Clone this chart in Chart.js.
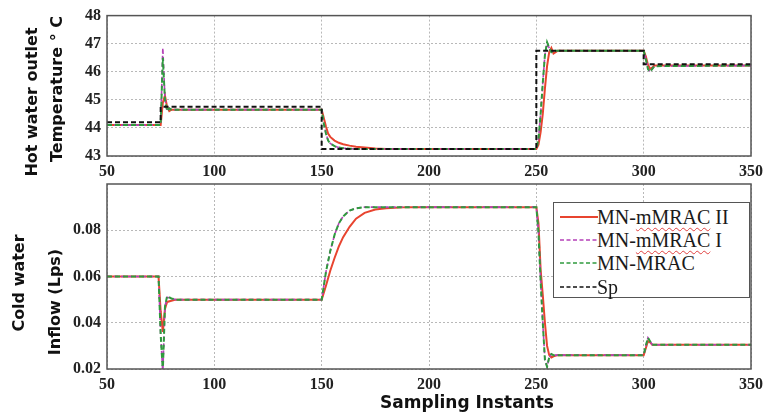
<!DOCTYPE html>
<html><head><meta charset="utf-8">
<script src="https://cdn.jsdelivr.net/npm/chart.js@4"></script>
<style>
html,body{margin:0;padding:0;background:#fff;}
#wrap{position:relative;width:771px;height:418px;overflow:hidden;background:#fff;}
canvas{position:absolute;left:0;}
#c1{top:0;}
#c2{top:160px;}
.yl{position:absolute;font-family:"DejaVu Sans",sans-serif;font-weight:bold;font-size:16px;color:#111;white-space:nowrap;transform:translate(-50%,-50%) rotate(-90deg);line-height:18px;}
#xt{position:absolute;font-family:"DejaVu Sans",sans-serif;font-weight:bold;font-size:17px;color:#111;white-space:nowrap;transform:translate(-50%,-50%);line-height:20px;}
#legend{position:absolute;left:553px;top:202px;width:197px;height:96px;box-sizing:border-box;border:1.5px solid #555;background:#fff;}
.row{position:absolute;left:0;height:20px;width:195px;}
.row svg{position:absolute;left:6px;top:8px;}
.row .t{position:absolute;left:43px;top:0;font-family:"Liberation Serif",serif;font-size:20px;line-height:20px;color:#1a1a1a;white-space:nowrap;}
.sp{text-decoration:underline wavy #e04040;text-decoration-thickness:1px;text-underline-offset:3px;}
</style></head>
<body>
<div id="wrap">
<canvas id="c1" width="771" height="182"></canvas>
<canvas id="c2" width="771" height="258"></canvas>
<div class="yl" style="left:32px;top:102px;">Hot water outlet</div>
<div class="yl" style="left:57px;top:89px;">Temperature ° C</div>
<div class="yl" style="left:19px;top:283px;">Cold water</div>
<div class="yl" style="left:55px;top:302px;">Inflow (Lps)</div>
<div id="xt" style="left:467px;top:402px;">Sampling Instants</div>
<div id="legend">
 <div class="row" style="top:4px;"><svg width="38" height="4"><line x1="0" y1="2" x2="38" y2="2" stroke="#e8442f" stroke-width="2"/></svg><span class="t">MN-<span class="sp">mMRAC</span> II</span></div>
 <div class="row" style="top:27px;"><svg width="38" height="4"><line x1="0" y1="2" x2="38" y2="2" stroke="#b540b8" stroke-width="1.6" stroke-dasharray="4 2.5"/></svg><span class="t">MN-<span class="sp">mMRAC</span> I</span></div>
 <div class="row" style="top:50px;"><svg width="38" height="4"><line x1="0" y1="2" x2="38" y2="2" stroke="#2f9a3e" stroke-width="1.6" stroke-dasharray="4 2.5"/></svg><span class="t">MN-MRAC</span></div>
 <div class="row" style="top:74px;"><svg width="38" height="4"><line x1="0" y1="2" x2="38" y2="2" stroke="#111" stroke-width="1.6" stroke-dasharray="4 2.5"/></svg><span class="t">Sp</span></div>
</div>
</div>
<script>
// ---- Top panel: hot water outlet temperature ----
const tempX     = [50, 75, 76, 77, 78, 79, 80, 150, 151, 152, 153, 154, 156, 158, 160, 163, 166, 170, 175, 180, 250, 251, 252, 253, 254, 255, 256, 257, 258, 259, 260, 300, 301, 302, 303, 304, 305, 350];
const tempRed   = [44.1, 44.1, 44.9, 45.15, 44.75, 44.6, 44.65, 44.65, 44.35, 44.05, 43.8, 43.68, 43.55, 43.47, 43.42, 43.37, 43.33, 43.3, 43.27, 43.25, 43.25, 43.4, 43.85, 44.5, 45.4, 46.2, 46.7, 46.85, 46.65, 46.7, 46.75, 46.75, 46.55, 46.25, 46.1, 46.15, 46.22, 46.22];
const tempMag   = [44.1, 44.1, 46.85, 45.05, 44.6, 44.7, 44.65, 44.65, 44.15, 43.8, 43.55, 43.45, 43.35, 43.3, 43.28, 43.26, 43.25, 43.25, 43.25, 43.25, 43.25, 43.6, 44.5, 45.6, 46.6, 47.0, 46.85, 46.7, 46.75, 46.75, 46.75, 46.75, 46.45, 46.1, 46.0, 46.1, 46.2, 46.22];
const tempGreen = [44.1, 44.1, 46.5, 45.0, 44.6, 44.7, 44.65, 44.65, 44.15, 43.8, 43.55, 43.45, 43.35, 43.3, 43.28, 43.26, 43.25, 43.25, 43.25, 43.25, 43.25, 43.6, 44.5, 45.6, 46.6, 47.05, 46.85, 46.7, 46.75, 46.75, 46.75, 46.75, 46.45, 46.1, 46.0, 46.1, 46.2, 46.22];
const spX       = [50, 75, 150, 250, 300, 350];
const spY       = [44.2, 44.75, 43.25, 46.75, 46.27, 46.27];
const tempTicks = [43, 44, 45, 46, 47, 48];

// ---- Bottom panel: cold water inflow ----
const flowX     = [50, 74, 75, 76, 77, 78, 80, 82, 150, 152, 154, 156, 158, 160, 163, 166, 170, 175, 180, 190, 250, 251, 252, 253, 254, 255, 256, 257, 258, 260, 300, 301, 302, 303, 304, 306, 350];
const flowRed   = [0.06, 0.06, 0.045, 0.036, 0.046, 0.049, 0.0495, 0.05, 0.05, 0.056, 0.0625, 0.068, 0.073, 0.077, 0.0815, 0.085, 0.0875, 0.089, 0.0895, 0.09, 0.09, 0.083, 0.063, 0.052, 0.04, 0.03, 0.026, 0.025, 0.0255, 0.026, 0.026, 0.029, 0.032, 0.0315, 0.0305, 0.0305, 0.0305];
const flowMag   = [0.06, 0.06, 0.035, 0.018, 0.047, 0.051, 0.0505, 0.05, 0.05, 0.062, 0.071, 0.078, 0.083, 0.086, 0.0885, 0.0895, 0.09, 0.09, 0.09, 0.09, 0.09, 0.079, 0.058, 0.04, 0.024, 0.021, 0.025, 0.0265, 0.026, 0.026, 0.026, 0.03, 0.0335, 0.032, 0.0305, 0.0305, 0.0305];
const flowGreen = [0.06, 0.06, 0.035, 0.019, 0.047, 0.0515, 0.0505, 0.05, 0.05, 0.062, 0.071, 0.078, 0.083, 0.086, 0.0885, 0.0895, 0.09, 0.09, 0.09, 0.09, 0.09, 0.079, 0.058, 0.04, 0.024, 0.021, 0.025, 0.0265, 0.026, 0.026, 0.026, 0.03, 0.0335, 0.032, 0.0305, 0.0305, 0.0305];
const flowTicks = [0.02, 0.04, 0.06, 0.08];

const xTicks = [50, 100, 150, 200, 250, 300, 350];

const RED = '#e8442f', MAG = '#b540b8', GRN = '#2f9a3e', BLK = '#111111';

function pts(xs, ys){ return xs.map((x,i)=>({x:x, y:ys[i]})); }

const framePlugin = {
  id:'frame',
  afterDraw(chart){
    const {ctx, chartArea:a} = chart;
    ctx.save();
    ctx.strokeStyle = '#555'; ctx.lineWidth = 1.5;
    ctx.strokeRect(a.left, a.top, a.right-a.left, a.bottom-a.top);
    ctx.restore();
  }
};

const tickFont = {family:'"Liberation Serif", serif', size:16, weight:'bold'};

function makeOpts(yMin, yMax, yStep, yLabels, fmt, padTop, xAxisH){
  return {
    responsive:false, animation:false, devicePixelRatio:1,
    layout:{padding:{left:0, right:20, top:padTop, bottom:0}},
    plugins:{legend:{display:false}, tooltip:{enabled:false}},
    elements:{point:{radius:0}, line:{tension:0}},
    scales:{
      x:{type:'linear', min:50, max:350,
         afterBuildTicks(s){ s.ticks = xTicks.map(v=>({value:v})); },
         ticks:{autoSkip:false, maxRotation:0, padding:6, color:'#222', font:tickFont},
         grid:{color:'rgba(0,0,0,0.28)', lineWidth:1, drawTicks:false},
         border:{display:false, dash:[2,2]},
         afterFit(s){ s.height = xAxisH; }},
      y:{type:'linear', min:yMin, max:yMax,
         afterBuildTicks(s){ s.ticks = yLabels.map(v=>({value:v})); },
         ticks:{padding:6, color:'#222', font:tickFont, callback:(v)=>fmt(v)},
         grid:{color:'rgba(0,0,0,0.28)', lineWidth:1, drawTicks:false},
         border:{display:false, dash:[2,2]},
         afterFit(s){ s.width = 107; }}
    }
  };
}

new Chart(document.getElementById('c1'), {
  type:'line',
  data:{datasets:[
    {label:'Sp', data:pts(spX, spY), borderColor:BLK, borderWidth:2, borderDash:[5,3], stepped:'before'},
    {label:'MN-MRAC', data:pts(tempX, tempGreen), borderColor:GRN, borderWidth:2, borderDash:[5,3]},
    {label:'MN-mMRAC I', data:pts(tempX, tempMag), borderColor:MAG, borderWidth:1.6, borderDash:[4,3]},
    {label:'MN-mMRAC II', data:pts(tempX, tempRed), borderColor:RED, borderWidth:2}
  ]},
  options:makeOpts(43, 48, 1, tempTicks, v=>String(v), 13, 26),
  plugins:[framePlugin]
});

new Chart(document.getElementById('c2'), {
  type:'line',
  data:{datasets:[
    {label:'MN-MRAC', data:pts(flowX, flowGreen), borderColor:GRN, borderWidth:2, borderDash:[5,3]},
    {label:'MN-mMRAC I', data:pts(flowX, flowMag), borderColor:MAG, borderWidth:1.6, borderDash:[4,3]},
    {label:'MN-mMRAC II', data:pts(flowX, flowRed), borderColor:RED, borderWidth:2}
  ]},
  options:makeOpts(0.02, 0.1, 0.02, flowTicks, v=>Number(v).toFixed(2), 24, 49),
  plugins:[framePlugin]
});
</script>
</body></html>
